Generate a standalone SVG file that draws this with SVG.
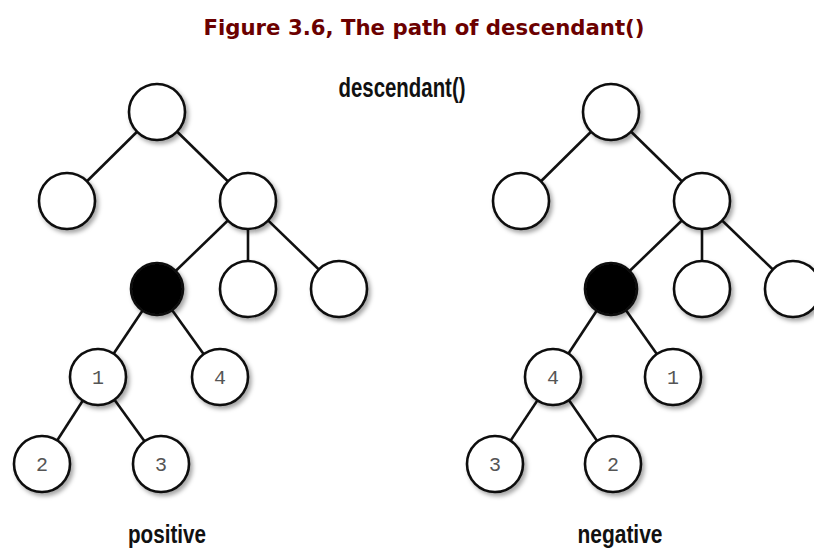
<svg xmlns="http://www.w3.org/2000/svg" width="814" height="548" viewBox="0 0 814 548">
<defs>
<filter id="sh" x="-30%" y="-30%" width="170%" height="170%">
<feDropShadow dx="2.5" dy="3" stdDeviation="2" flood-color="#000" flood-opacity="0.35"/>
</filter>
<style>
.n{fill:#fff;stroke:#111;stroke-width:2.6;filter:url(#sh)}
.b{fill:#000;stroke:#111;stroke-width:2.6;filter:url(#sh)}
.e{stroke:#111;stroke-width:2.6;fill:none}
.num{font-family:"Liberation Mono","DejaVu Sans Mono",monospace;font-size:20px;fill:#555;text-anchor:middle}
.lbl{font-family:"Liberation Sans Narrow","Liberation Sans",Arial,sans-serif;font-weight:bold;fill:#111;text-anchor:middle}
.title{font-family:"DejaVu Sans",Verdana,sans-serif;font-weight:bold;font-size:21px;fill:#6b0000;text-anchor:middle}
</style>
</defs>
<rect width="814" height="548" fill="#fff"/>
<text class="title" x="424" y="35" textLength="441" lengthAdjust="spacingAndGlyphs">Figure 3.6, The path of descendant()</text>
<text class="lbl" x="402" y="97" font-size="28" textLength="127" lengthAdjust="spacingAndGlyphs">descendant()</text>
<text class="lbl" x="167" y="543" font-size="26" textLength="78" lengthAdjust="spacingAndGlyphs">positive</text>
<text class="lbl" x="620" y="543" font-size="26" textLength="85" lengthAdjust="spacingAndGlyphs">negative</text>
<g id="edges">
<line class="e" x1="157" y1="112" x2="67" y2="201"/>
<line class="e" x1="157" y1="112" x2="248" y2="201"/>
<line class="e" x1="248" y1="201" x2="157" y2="289"/>
<line class="e" x1="248" y1="201" x2="248" y2="289"/>
<line class="e" x1="248" y1="201" x2="339" y2="289"/>
<line class="e" x1="157" y1="289" x2="98" y2="377"/>
<line class="e" x1="157" y1="289" x2="220" y2="377"/>
<line class="e" x1="98" y1="377" x2="42" y2="464"/>
<line class="e" x1="98" y1="377" x2="161" y2="464"/>
<line class="e" x1="611" y1="112" x2="521" y2="201"/>
<line class="e" x1="611" y1="112" x2="702" y2="201"/>
<line class="e" x1="702" y1="201" x2="611" y2="289"/>
<line class="e" x1="702" y1="201" x2="702" y2="289"/>
<line class="e" x1="702" y1="201" x2="793" y2="289"/>
<line class="e" x1="611" y1="289" x2="553" y2="377"/>
<line class="e" x1="611" y1="289" x2="673" y2="377"/>
<line class="e" x1="553" y1="377" x2="495" y2="464"/>
<line class="e" x1="553" y1="377" x2="613" y2="464"/>
</g>
<g id="L-root"><circle class="n" cx="157" cy="112" r="28"/></g>
<g id="L-a"><circle class="n" cx="67" cy="201" r="28"/></g>
<g id="L-b"><circle class="n" cx="248" cy="201" r="28"/></g>
<g id="L-ctx"><circle class="b" cx="157" cy="289" r="26"/></g>
<g id="L-c"><circle class="n" cx="248" cy="289" r="28"/></g>
<g id="L-d"><circle class="n" cx="339" cy="289" r="28"/></g>
<g id="L-1"><circle class="n" cx="98" cy="377" r="28"/><text class="num" x="98" y="384">1</text></g>
<g id="L-4"><circle class="n" cx="220" cy="377" r="28"/><text class="num" x="220" y="384">4</text></g>
<g id="L-2"><circle class="n" cx="42" cy="464" r="28"/><text class="num" x="42" y="471">2</text></g>
<g id="L-3"><circle class="n" cx="161" cy="464" r="28"/><text class="num" x="161" y="471">3</text></g>
<g id="R-root"><circle class="n" cx="611" cy="112" r="28"/></g>
<g id="R-a"><circle class="n" cx="521" cy="201" r="28"/></g>
<g id="R-b"><circle class="n" cx="702" cy="201" r="28"/></g>
<g id="R-ctx"><circle class="b" cx="611" cy="289" r="26"/></g>
<g id="R-c"><circle class="n" cx="702" cy="289" r="28"/></g>
<g id="R-d"><circle class="n" cx="793" cy="289" r="28"/></g>
<g id="R-4"><circle class="n" cx="553" cy="377" r="28"/><text class="num" x="553" y="384">4</text></g>
<g id="R-1"><circle class="n" cx="673" cy="377" r="28"/><text class="num" x="673" y="384">1</text></g>
<g id="R-3"><circle class="n" cx="495" cy="464" r="28"/><text class="num" x="495" y="471">3</text></g>
<g id="R-2"><circle class="n" cx="613" cy="464" r="28"/><text class="num" x="613" y="471">2</text></g>
</svg>
